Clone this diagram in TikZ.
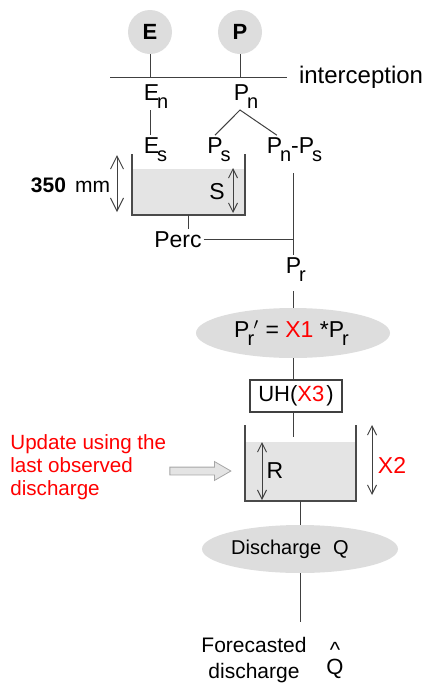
\documentclass[tikz,border=0pt]{standalone}
\usepackage{fontspec}
\setmainfont{Liberation Sans}
\usepackage{xcolor}
\definecolor{GRline}{HTML}{404040}
\definecolor{GRwall}{HTML}{4A4A4A}
\definecolor{GRbubble}{HTML}{DDDDDD}
\definecolor{GRwater}{HTML}{E4E4E4}
\definecolor{GRred}{HTML}{FF0000}
\usepackage{tikz}
\usetikzlibrary{arrows.meta, shapes.geometric, shapes.arrows, positioning}

% subscript set low, as in the slide
\newcommand{\lowsub}[1]{\rlap{\kern-1pt\raisebox{-4pt}{\fontsize{10}{10}\selectfont #1}}}

\begin{document}
\begin{tikzpicture}[x=0.5pt, y=-0.5pt]

\tikzset{
  bubble/.style={circle, fill=GRbubble, minimum size=22pt, inner sep=0pt,
    font=\fontsize{11}{13}\selectfont\bfseries},
  lbl/.style={font=\fontsize{11.5}{13}\selectfont, inner sep=0pt, outer sep=1pt},
  store/.style={ellipse, fill=GRbubble, inner sep=0pt},
  link/.style={GRline, line width=0.5pt},
  wall/.style={GRwall, line width=0.8pt},
  gauge/.style={GRline, line width=0.5pt,
    {Straight Barb[length=#1,width=#1]}-{Straight Barb[length=#1,width=#1]}},
  gauge/.default=4.5pt,
  redtxt/.style={GRred, font=\fontsize{10.3}{11.5}\selectfont},
}

  \useasboundingbox (0,0) rectangle (428,686);

  % ── Inputs and interception ───────────────────────────────
  \coordinate (icpL) at (110,77);
  \coordinate (icpR) at (287,77);
  \draw[link] (icpL) -- (icpR);
  \node[lbl, anchor=base west, font=\fontsize{12}{14}\selectfont] (icp) at (297,83) {interception};

  \foreach \nm/\x in {E/150, P/240}{
    \node[bubble] (\nm) at (\x,32) {\nm};
    \draw[link] (\nm) -- (\nm |- icpL);
  }

  % Net quantities
  \node[lbl, anchor=base] (En) at (151.5,100) {E\lowsub{n}};
  \node[lbl, anchor=base] (Pn) at (241.5,100) {P\lowsub{n}};
  \node[lbl, anchor=base] (Es) at (151.5,153) {E\lowsub{s}};
  \node[lbl, anchor=base] (Ps) at (215,153) {P\lowsub{s}};
  \node[lbl, anchor=base] (PnPs) at (290.5,153) {P\lowsub{n}\hspace{4.5pt}-P\lowsub{s}};

  \draw[link] (En.south -| E) -- (Es.north -| E);
  \coordinate (split) at (Pn.south -| P);
  \draw[link] (Ps.north) -- (split) -- ([xshift=6pt]PnPs.north west);

  % ── Production store S ────────────────────────────────────
  \fill[GRwater] (132,169) rectangle (245,215);
  \draw[wall] (132,154) -- (132,215) -- (245,215) -- (245,154);
  \coordinate (sOut) at (188,215);

  \draw[gauge=6.5pt] (117,155) -- (117,212);
  \node[lbl, anchor=east, font=\fontsize{10.5}{12}\selectfont] (depth) at (112,185)
    {\textbf{350}\hspace{4.5pt}mm};
  \node[lbl] (S) at (217,192) {S};
  \draw[gauge] (233,168) -- (233,213);

  % Percolation
  \node[lbl, anchor=base] (Perc) at (178,247) {Perc};
  \node[lbl, anchor=base] (Pr) at (293.5,273) {P\lowsub{r}};
  \coordinate (join) at (Pr |- Perc.east);
  \draw[link] (sOut) -- (Perc.north -| sOut);
  \draw[link] (Perc.east) -- (join);
  \draw[link, shorten <=5pt] (PnPs.south -| Pr) -- (Pr.north);

  % ── Correction and unit hydrograph ────────────────────────
  \node[store, minimum width=97pt, minimum height=25pt, font=\fontsize{11.5}{13}\selectfont]
    (Prp) at (293,333)
    {P\lowsub{r}\kern2pt$'$ = \textcolor{GRred}{X1} *P\lowsub{r}\hphantom{r}};
  \draw[link, shorten <=4pt] (Pr.south) -- (Pr.south |- Prp.north);

  \node[draw=GRline, line width=0.6pt, minimum width=46pt, minimum height=16pt,
    inner sep=0pt, font=\fontsize{11}{13}\selectfont] (UH) at (296,396)
    {UH(\textcolor{GRred}{X3}\kern1pt)};
  \draw[link] (Prp.south) -- (Prp.south |- UH.north);

  % ── Routing store R ───────────────────────────────────────
  \fill[GRwater] (245,442) rectangle (356,501);
  \draw[wall] (245,425) -- (245,501) -- (356,501) -- (356,425);
  \coordinate (rIn) at (293,437);
  \coordinate (rOut) at (300,501);
  \draw[link] (UH.south -| rIn) -- (rIn);

  \draw[gauge] (262,442) -- (262,500);
  \node[lbl] (R) at (275,471) {R};
  \draw[gauge] (372,425) -- (372,495);
  \node[lbl, GRred] (X2) at (392,465) {X2};

  % Updating
  \node[redtxt, align=left, anchor=west, inner sep=0pt] (upd) at (10,467)
    {Update using the\\last observed\\discharge};
  \node[single arrow, fill=GRwater, draw=gray!70, line width=0.4pt,
    minimum height=30.5pt, minimum width=9pt, inner sep=1.75pt,
    single arrow tip angle=60, single arrow head extend=2.75pt] (updArrow) at (197,471) {};

  % ── Outflow ───────────────────────────────────────────────
  \node[store, minimum width=98pt, minimum height=24pt, font=\fontsize{10}{12}\selectfont]
    (Q) at (300,549) {Discharge\hspace{6pt}Q\kern10pt};
  \draw[link] (rOut) -- (Q.north);
  \coordinate (qEnd) at (300,622);
  \draw[link] (Q.south) -- (qEnd);

  \node[font=\fontsize{10.5}{13}\selectfont, align=center, inner sep=0pt] (fcst) at (254,660)
    {Forecasted\\discharge};
  \node[font=\fontsize{11}{13}\selectfont, align=center, inner sep=0pt] (qhat) at (335,661)
    {\textasciicircum\\[-4.5pt]Q};

\end{tikzpicture}
\end{document}
